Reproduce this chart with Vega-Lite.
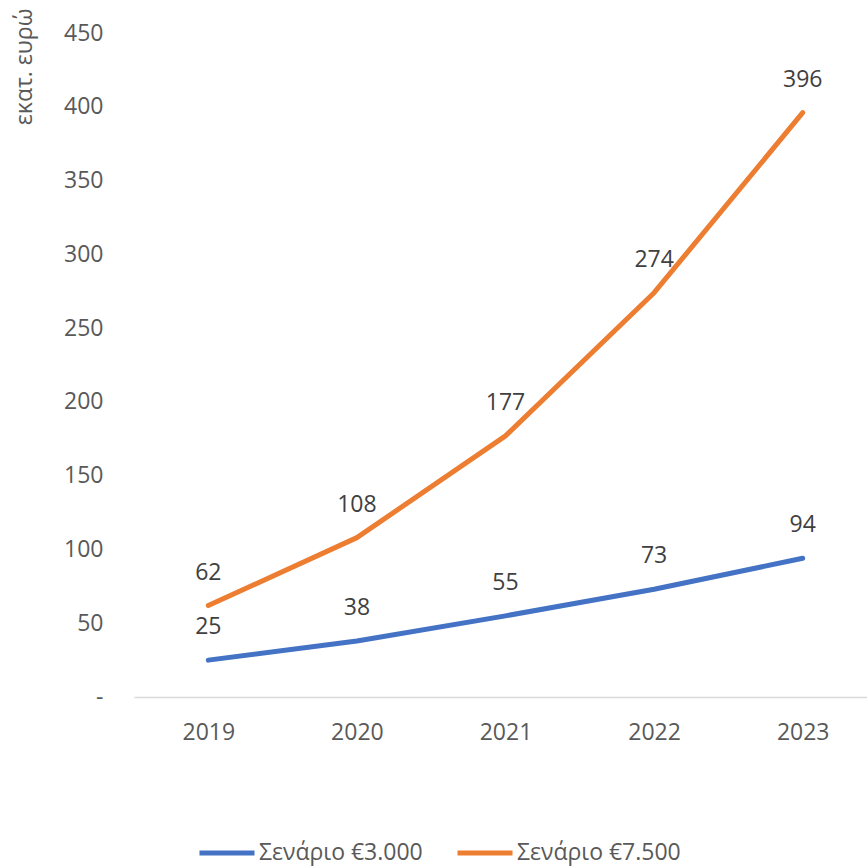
{
  "$schema": "https://vega.github.io/schema/vega-lite/v6.json",
  "width": 733,
  "height": 664,
  "autosize": {"type": "none"},
  "padding": {"left": 134, "top": 33, "right": 0, "bottom": 169},
  "background": "white",
  "config": {
    "view": {"stroke": null},
    "font": "Open Sans"
  },
  "data": {
    "values": [
      {"year": "2019", "series": "Σενάριο €3.000", "value": 25},
      {"year": "2020", "series": "Σενάριο €3.000", "value": 38},
      {"year": "2021", "series": "Σενάριο €3.000", "value": 55},
      {"year": "2022", "series": "Σενάριο €3.000", "value": 73},
      {"year": "2023", "series": "Σενάριο €3.000", "value": 94},
      {"year": "2019", "series": "Σενάριο €7.500", "value": 62},
      {"year": "2020", "series": "Σενάριο €7.500", "value": 108},
      {"year": "2021", "series": "Σενάριο €7.500", "value": 177},
      {"year": "2022", "series": "Σενάριο €7.500", "value": 274},
      {"year": "2023", "series": "Σενάριο €7.500", "value": 396}
    ]
  },
  "encoding": {
    "x": {
      "field": "year",
      "type": "ordinal",
      "scale": {"type": "point", "range": [0, 743], "padding": 0.5},
      "axis": {
        "title": null,
        "labelAngle": 0,
        "labelFontSize": 23,
        "labelColor": "#595959",
        "labelPadding": 24,
        "ticks": false,
        "tickSize": 0,
        "domainColor": "#d9d9d9",
        "domainWidth": 1.5,
        "grid": false
      }
    },
    "y": {
      "field": "value",
      "type": "quantitative",
      "scale": {"domain": [0, 450], "nice": false},
      "axis": {
        "values": [0, 50, 100, 150, 200, 250, 300, 350, 400, 450],
        "labelExpr": "datum.value == 0 ? '-' : datum.label",
        "labelFontSize": 23,
        "labelColor": "#595959",
        "labelPadding": 31,
        "ticks": false,
        "tickSize": 0,
        "domain": false,
        "grid": false,
        "title": "εκατ. ευρώ",
        "titleFontSize": 23,
        "titleFontWeight": "normal",
        "titleColor": "#595959",
        "titleAngle": -90,
        "titleAlign": "right",
        "titleBaseline": "middle",
        "titleX": -110,
        "titleY": -25
      }
    },
    "color": {
      "field": "series",
      "type": "nominal",
      "scale": {
        "domain": ["Σενάριο €3.000", "Σενάριο €7.500"],
        "range": ["#4472C4", "#ED7D31"]
      },
      "legend": {
        "title": null,
        "orient": "none",
        "direction": "horizontal",
        "legendX": 63,
        "legendY": 790,
        "symbolType": "stroke",
        "symbolSize": 3025,
        "symbolStrokeWidth": 5,
        "labelFontSize": 23,
        "labelColor": "#595959",
        "labelOffset": 2,
        "columnPadding": 24,
        "labelLimit": 400
      }
    }
  },
  "layer": [
    {
      "mark": {"type": "line", "strokeWidth": 5, "strokeCap": "round", "strokeJoin": "round"}
    },
    {
      "mark": {"type": "text", "dy": -33, "fontSize": 23, "color": "#404040", "baseline": "middle", "align": "center"},
      "encoding": {
        "text": {"field": "value", "type": "quantitative"},
        "color": {"value": "#404040"}
      }
    }
  ]
}
